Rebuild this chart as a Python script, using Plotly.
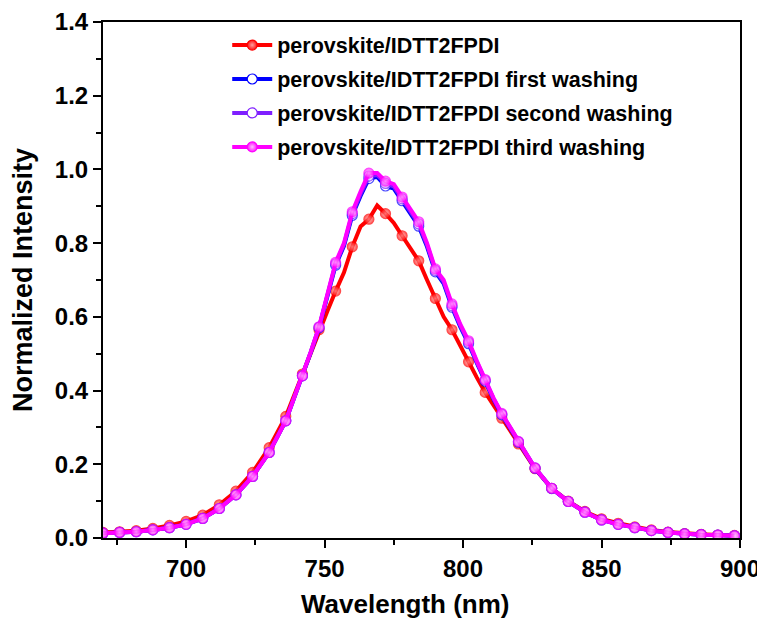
import plotly.graph_objects as go

wavelength = [670, 676, 682, 688, 694, 700, 706, 712, 718, 724, 730, 736, 742,
              745, 748, 751, 754, 757, 760, 763, 766, 769, 772, 775, 778, 781, 784,
              787, 790, 793, 796, 799, 802, 805, 808, 811, 814,
              820, 826, 832, 838, 844, 850, 856, 862, 868, 874, 880, 886, 892, 898]

pristine = [0.015, 0.017, 0.020, 0.026, 0.034, 0.045, 0.062, 0.090, 0.127, 0.178, 0.245, 0.330, 0.445,
            0.505, 0.565, 0.615, 0.670, 0.720, 0.790, 0.845, 0.865, 0.902, 0.880, 0.855, 0.820, 0.785, 0.752,
            0.700, 0.650, 0.600, 0.565, 0.520, 0.478, 0.435, 0.395, 0.360, 0.325,
            0.255, 0.188, 0.135, 0.100, 0.072, 0.052, 0.040, 0.030, 0.022, 0.016, 0.012, 0.010, 0.008, 0.007]

first_wash = [0.013, 0.015, 0.017, 0.022, 0.028, 0.037, 0.053, 0.080, 0.117, 0.167, 0.232, 0.318, 0.440,
              0.503, 0.570, 0.655, 0.740, 0.792, 0.875, 0.928, 0.975, 0.980, 0.955, 0.948, 0.915, 0.880, 0.846,
              0.790, 0.722, 0.690, 0.626, 0.573, 0.527, 0.474, 0.425, 0.376, 0.334,
              0.260, 0.189, 0.134, 0.099, 0.070, 0.049, 0.037, 0.028, 0.020, 0.015, 0.011, 0.009, 0.008, 0.006]

second_wash = [0.013, 0.015, 0.017, 0.022, 0.028, 0.037, 0.053, 0.080, 0.117, 0.167, 0.232, 0.318, 0.440,
               0.504, 0.572, 0.658, 0.744, 0.796, 0.880, 0.934, 0.982, 0.985, 0.962, 0.954, 0.920, 0.885, 0.852,
               0.795, 0.726, 0.695, 0.630, 0.577, 0.531, 0.477, 0.428, 0.378, 0.336,
               0.261, 0.190, 0.135, 0.099, 0.070, 0.049, 0.037, 0.028, 0.020, 0.015, 0.011, 0.009, 0.008, 0.006]

third_wash = [0.013, 0.015, 0.017, 0.022, 0.028, 0.037, 0.053, 0.080, 0.117, 0.167, 0.232, 0.318, 0.440,
              0.505, 0.573, 0.660, 0.748, 0.800, 0.885, 0.940, 0.990, 0.990, 0.968, 0.960, 0.925, 0.890, 0.858,
              0.800, 0.730, 0.700, 0.635, 0.580, 0.535, 0.480, 0.430, 0.380, 0.338,
              0.262, 0.190, 0.135, 0.099, 0.070, 0.049, 0.037, 0.028, 0.020, 0.015, 0.011, 0.009, 0.008, 0.006]

names = ["perovskite/IDTT2FPDI",
         "perovskite/IDTT2FPDI first washing",
         "perovskite/IDTT2FPDI second washing",
         "perovskite/IDTT2FPDI third washing"]

x_title = "Wavelength (nm)"
y_title = "Normalized Intensity"

series = [pristine, first_wash, second_wash, third_wash]
line_colors = ["#ff0000", "#0000ff", "#7f1fff", "#ff00ff"]
marker_fill = ["#ff1010", "#ffffff", "#ffffff", "#ff10ff"]
marker_grad = ["#ffa0a0", "#ffffff", "#ffffff", "#ffc0ff"]

MS = 10
sizes = [MS if (w - 670) % 6 == 0 else 0 for w in wavelength]

fig = go.Figure()
for i, (name, ys, lc, mf, mg) in enumerate(zip(names, series, line_colors, marker_fill, marker_grad)):
    fig.add_trace(go.Scatter(
        x=wavelength, y=ys, mode="lines+markers", name=name, showlegend=False,
        legendgroup=f"g{i}",
        line=dict(color=lc, width=4),
        marker=dict(size=sizes, color=mf, symbol="circle",
                    line=dict(color=lc, width=1.2),
                    gradient=dict(type="radial", color=mg)),
    ))
# legend entries
for i, (name, lc, mf, mg) in enumerate(zip(names, line_colors, marker_fill, marker_grad)):
    fig.add_trace(go.Scatter(
        x=[None], y=[None], mode="lines+markers", name=name, showlegend=True,
        legendgroup=f"g{i}",
        line=dict(color=lc, width=4),
        marker=dict(size=MS, color=mf, symbol="circle",
                    line=dict(color=lc, width=1.2),
                    gradient=dict(type="radial", color=mg)),
    ))

font_family = "Liberation Sans, Arial, sans-serif"

axis_common = dict(
    showline=True, linewidth=2, linecolor="black", mirror=True,
    ticks="outside", ticklen=8, tickwidth=2, tickcolor="black",
    showgrid=False, zeroline=False, automargin=False,
    tickfont=dict(family=font_family, size=24, color="black", weight="bold"),
)

fig.update_layout(
    width=757, height=611,
    margin=dict(l=95, r=25, t=14, b=81),
    paper_bgcolor="white", plot_bgcolor="white",
    font=dict(family=font_family, color="black"),
    xaxis=dict(
        range=[670, 900], tick0=700, dtick=50,
        minor=dict(dtick=25, ticks="outside", ticklen=5, tickwidth=2, tickcolor="black"),
        **axis_common,
    ),
    yaxis=dict(
        range=[0, 1.4], tick0=0, dtick=0.2, tickformat=".1f",
        minor=dict(dtick=0.1, ticks="outside", ticklen=5, tickwidth=2, tickcolor="black"),
        title=dict(text=y_title, standoff=15,
                   font=dict(family=font_family, size=27, color="black", weight="bold")),
        **axis_common,
    ),
    legend=dict(
        x=0.195, y=0.995, xanchor="left", yanchor="top",
        bgcolor="rgba(0,0,0,0)", borderwidth=0,
        font=dict(family=font_family, size=21.5, color="black", weight="bold"),
        itemwidth=40, tracegroupgap=3,
    ),
    annotations=[dict(
        text=x_title, xref="paper", yref="paper", x=0.474, y=-0.128,
        xanchor="center", yanchor="middle", showarrow=False,
        font=dict(family=font_family, size=26, color="black", weight="bold"),
    )],
)

fig.write_html("out.html")
